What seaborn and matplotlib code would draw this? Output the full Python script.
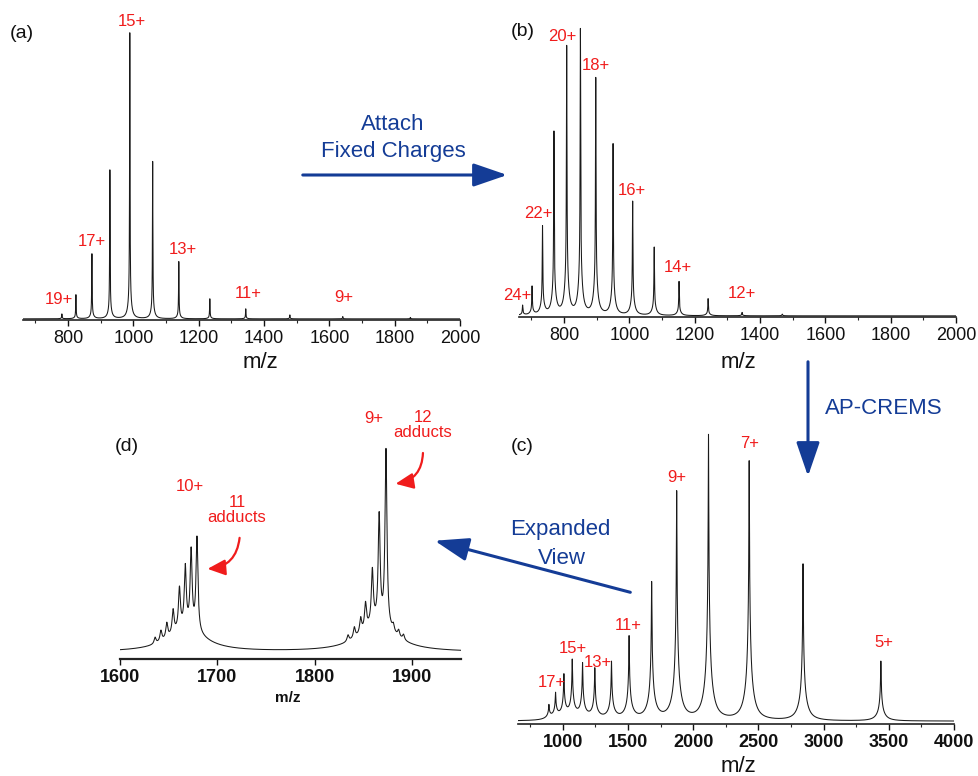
import numpy as np
import pandas as pd
import matplotlib
matplotlib.use('Agg')
import matplotlib.pyplot as plt
from matplotlib.patches import FancyArrowPatch
from matplotlib.ticker import MultipleLocator
import seaborn as sns

# ── Peak lists (m/z, relative intensity) ──
# (a) native protein
a_mz     = [781, 824, 873, 928, 989, 1059, 1139, 1234, 1344, 1479, 1641, 1848]
a_height = [0.017, 0.084, 0.227, 0.52, 1.0, 0.55, 0.20, 0.07, 0.035, 0.014, 0.008, 0.005]
a_labels = ['19+', '17+', '15+', '13+', '11+', '9+']
a_lab_mz = [772, 873, 996, 1152, 1351, 1645]
a_lab_y  = [0.066, 0.27, 1.04, 0.244, 0.087, 0.073]

# (b) after fixed charges attached
b_mz     = [673, 702, 734, 769, 808, 850, 897, 950, 1010, 1076, 1152, 1241, 1345, 1468]
b_height = [0.035, 0.10, 0.31, 0.64, 0.94, 1.0, 0.83, 0.60, 0.40, 0.24, 0.12, 0.06, 0.012, 0.006]
b_labels = ['24+', '22+', '20+', '18+', '16+', '14+', '12+']
b_lab_mz = [656, 720, 794, 898, 1008, 1149, 1345]
b_lab_y  = [0.07, 0.36, 0.98, 0.878, 0.44, 0.17, 0.077]

# (c) AP-CREMS
c_mz     = [893, 944, 1008, 1072, 1151, 1245, 1373, 1508, 1681, 1873, 2117, 2429, 2842, 3439]
c_height = [0.047, 0.086, 0.148, 0.20, 0.19, 0.175, 0.20, 0.29, 0.48, 0.80, 1.0, 0.91, 0.55, 0.21]
c_labels = ['17+', '15+', '13+', '11+', '9+', '7+', '5+']
c_lab_mz = [914, 1074, 1270, 1500, 1875, 2431, 3464]
c_lab_y  = [0.143, 0.26, 0.213, 0.34, 0.86, 0.98, 0.283]

# (d) expanded view of the 10+ and 9+ adduct series
d_mz     = [1636, 1642, 1648, 1654.5, 1661, 1667, 1673, 1679,
            1834, 1840.5, 1847, 1852, 1859, 1866, 1873, 1880.5, 1886, 1891]
d_height = [0.03, 0.05, 0.07, 0.11, 0.19, 0.28, 0.36, 0.44,
            0.03, 0.05, 0.07, 0.12, 0.25, 0.50, 0.83, 0.03, 0.03, 0.025]
d_hump_mz     = [1668, 1864]
d_hump_height = [0.11, 0.13]
d_baseline    = 0.028

W, H = 979, 776
RED  = '#f01c1c'
BLUE = '#143c96'

sns.set_theme(style='white')
plt.rcParams['font.family'] = ['Liberation Sans', 'DejaVu Sans']


def lorentz(x, centre, gamma):
    return gamma ** 2 / ((x - centre) ** 2 + gamma ** 2)


def spectrum(x, mz, height, widths, fractions, base=0.0):
    y = np.full_like(x, base)
    for c, h in zip(mz, height):
        for g, f in zip(widths, fractions):
            y += h * f * lorentz(x, c, g)
    return y


def px(x, y):
    # pixel position (from top-left) -> figure fraction
    return (x / W, 1 - y / H)


fig = plt.figure(figsize=(W / 100, H / 100), dpi=100)


def panel(left, bottom, width, scale, xlim, ymax):
    height = scale * ymax
    ax = fig.add_axes([left / W, 1 - bottom / H, width / W, height / H])
    ax.set_xlim(*xlim)
    ax.set_ylim(-0.004, ymax)
    ax.set_facecolor('none')
    ax.set_yticks([])
    sns.despine(ax=ax, left=True)
    ax.spines['bottom'].set_color('#222222')
    ax.spines['bottom'].set_linewidth(1.2)
    ax.tick_params(axis='x', which='major', direction='out', length=4, width=1,
                   pad=3, labelsize=13, colors='#111111', bottom=True)
    ax.tick_params(axis='x', which='minor', direction='out', length=2, width=0.8,
                   bottom=True)
    return ax


def draw(ax, x, y):
    df = pd.DataFrame({'mz': x, 'intensity': y})
    sns.lineplot(data=df, x='mz', y='intensity', ax=ax, color='#1a1a1a',
                 linewidth=0.75, estimator=None, errorbar=None, sort=False)
    ax.set_xlabel('')
    ax.set_ylabel('')


def charge_labels(ax, labels, xs, ys, size=12):
    for s, xv, yv in zip(labels, xs, ys):
        ax.text(xv, yv, s, color=RED, fontsize=size, ha='center', va='center',
                clip_on=False)


# ── (a) ──────────────────────────────────────────────────────
ax_a = panel(23, 320, 437, 287, (662, 2000), 1.05)
xa = np.linspace(662, 2000, 24000)
draw(ax_a, xa, spectrum(xa, a_mz, a_height, (0.8, 6), (0.93, 0.07)))
ax_a.xaxis.set_major_locator(MultipleLocator(200))
ax_a.xaxis.set_minor_locator(MultipleLocator(100))
charge_labels(ax_a, a_labels, a_lab_mz, a_lab_y)

# ── (b) ──────────────────────────────────────────────────────
ax_b = panel(519, 317, 437, 286, (662, 2000), 1.05)
xb = np.linspace(662, 2000, 24000)
draw(ax_b, xb, spectrum(xb, b_mz, b_height, (1.0, 7), (0.85, 0.15)))
ax_b.xaxis.set_major_locator(MultipleLocator(200))
ax_b.xaxis.set_minor_locator(MultipleLocator(100))
charge_labels(ax_b, b_labels, b_lab_mz, b_lab_y)

# ── (c) ──────────────────────────────────────────────────────
ax_c = panel(518, 724, 436, 286, (656, 4000), 1.05)
xc = np.linspace(656, 4000, 30000)
draw(ax_c, xc, spectrum(xc, c_mz, c_height, (2.5, 11, 38), (0.52, 0.34, 0.14), base=0.006))
ax_c.xaxis.set_major_locator(MultipleLocator(500))
ax_c.xaxis.set_minor_locator(MultipleLocator(250))
for t in ax_c.get_xticklabels():
    t.set_fontweight('bold')
charge_labels(ax_c, c_labels, c_lab_mz, c_lab_y)

# ── (d) ──────────────────────────────────────────────────────
ax_d = panel(120, 659, 341, 213, (1600, 1950), 1.05)
xd = np.linspace(1600, 1950, 20000)
yd = spectrum(xd, d_mz, d_height, (1.2,), (1.0,), base=d_baseline)
yd += spectrum(xd, d_hump_mz, d_hump_height, (22,), (1.0,))
draw(ax_d, xd, yd)
ax_d.spines['bottom'].set_linewidth(1.6)
ax_d.set_xticks([1600, 1700, 1800, 1900])
for t in ax_d.get_xticklabels():
    t.set_fontweight('bold')
ax_d.text(1672, 0.81, '10+', color=RED, fontsize=12, ha='center', va='center')
ax_d.text(1720, 0.70, '11\nadducts', color=RED, fontsize=12, ha='center',
          va='center', linespacing=1.0)
ax_d.text(1860, 1.13, '9+', color=RED, fontsize=12, ha='center', va='center',
          clip_on=False)
ax_d.text(1911, 1.10, '12\nadducts', color=RED, fontsize=12, ha='center',
          va='center', linespacing=1.0, clip_on=False)
for start, end in [((1723, 0.58), (1687, 0.42)), ((1911, 0.98), (1880, 0.82))]:
    ax_d.add_patch(FancyArrowPatch(start, end, connectionstyle='arc3,rad=-0.45',
                                   arrowstyle='-|>,head_length=0.9,head_width=0.4',
                                   mutation_scale=12, color=RED, lw=1.6,
                                   clip_on=False))

# ── panel letters and m/z titles ─────────────────────────────
for s, (x, y) in {'(a)': (22, 33), '(b)': (523, 32), '(c)': (522, 447),
                  '(d)': (127, 447)}.items():
    fig.text(*px(x, y), s, fontsize=14, ha='center', va='center', color='#111111')
for (x, y) in [(260, 362), (738, 362), (738, 766)]:
    fig.text(*px(x, y), 'm/z', fontsize=16, ha='center', va='center', color='#111111')
fig.text(*px(288, 698), 'm/z', fontsize=11, fontweight='bold', ha='center',
         va='center', color='#111111')

# ── workflow arrows ──────────────────────────────────────────
arrow_kw = dict(arrowstyle='-|>,head_length=1.6,head_width=0.55', mutation_scale=13,
                color=BLUE, lw=2.2, transform=fig.transFigure)
fig.add_artist(FancyArrowPatch(px(300, 175), px(510, 175), **arrow_kw))
fig.add_artist(FancyArrowPatch(px(808, 359), px(808, 479), **arrow_kw))
fig.add_artist(FancyArrowPatch(px(633, 593), px(432, 540), **arrow_kw))

fig.text(*px(393, 125), 'Attach', fontsize=16, color=BLUE, ha='center', va='center')
fig.text(*px(393, 152), 'Fixed Charges', fontsize=16, color=BLUE, ha='center', va='center')
fig.text(*px(825, 409), 'AP-CREMS', fontsize=16, color=BLUE, ha='left', va='center')
fig.text(*px(560, 530), 'Expanded', fontsize=16, color=BLUE, ha='center', va='center')
fig.text(*px(562, 558), 'View', fontsize=16, color=BLUE, ha='center', va='center')

fig.savefig('out.png', dpi=100, facecolor='white')
